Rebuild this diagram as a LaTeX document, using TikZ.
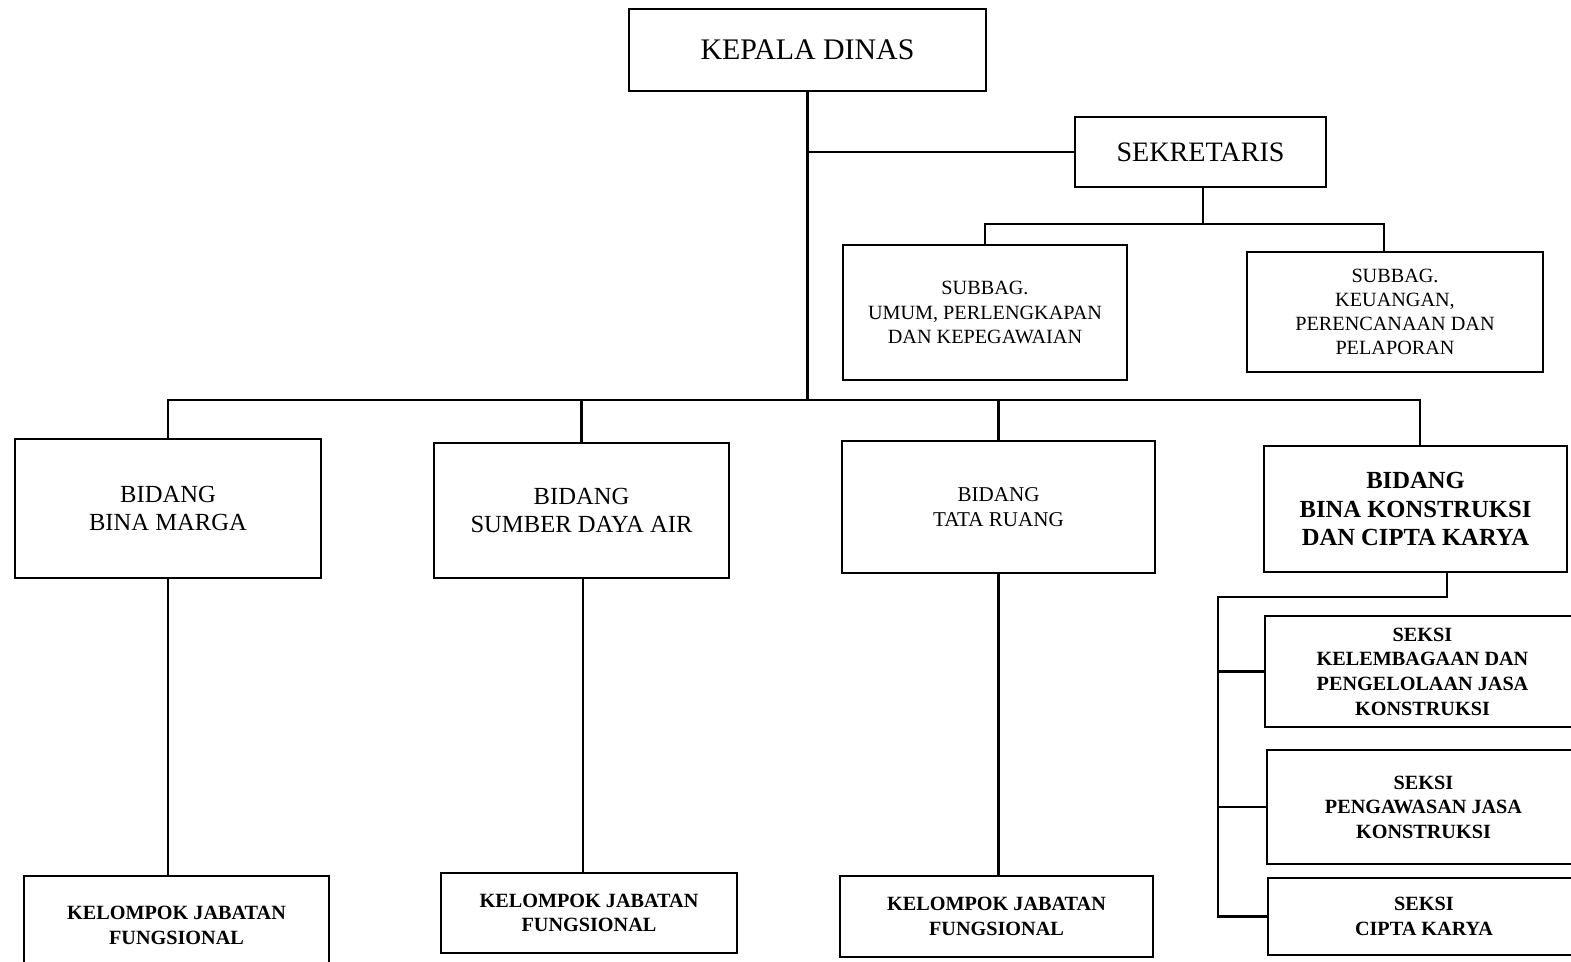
\documentclass[tikz,border=0pt]{standalone}
\usepackage{fontspec}
\setmainfont{Liberation Serif}
\usepackage{tikz}

\tikzset{
  unit/.style={draw, line width=1.1pt, align=center, inner sep=2pt},
  boxsize/.style 2 args={minimum width=#1*0.2mm, minimum height=#2*0.2mm},
  subbag/.style={font=\fontsize{11.5}{13.8}\selectfont},
  bidang/.style={font=\fontsize{14}{16}\selectfont},
  seksi/.style={font=\bfseries\fontsize{11.5}{14}\selectfont},
  link/.style={line width=1.4pt},
}

\begin{document}
\begin{tikzpicture}[x=0.2mm, y=-0.2mm]
  \useasboundingbox (0,0) rectangle (1571,961);
  \clip (0,0) rectangle (1571,961);

  % top of the chart
  \node[unit, boxsize={357}{82}, font=\fontsize{17}{20}\selectfont] (kepala) at (807.5,50) {KEPALA DINAS};
  \node[unit, boxsize={251}{70}, font=\fontsize{16}{19}\selectfont] (sekretaris) at (1200.5,152) {SEKRETARIS};
  \node[unit, subbag, boxsize={284}{135}] (umum) at (985,312.5)
    {SUBBAG.\\UMUM, PERLENGKAPAN\\DAN KEPEGAWAIAN};
  \node[unit, subbag, boxsize={296}{120}] (keuangan) at (1395,312)
    {SUBBAG.\\KEUANGAN,\\PERENCANAAN DAN\\PELAPORAN};

  % bidang row
  \node[unit, bidang, boxsize={306}{139}] (marga) at (168,508.5) {BIDANG\\BINA MARGA};
  \node[unit, bidang, boxsize={295}{135}] (air) at (581.5,510.5) {BIDANG\\SUMBER DAYA AIR};
  \node[unit, font=\fontsize{12}{14.2}\selectfont, boxsize={313}{132}] (ruang) at (998.5,507)
    {BIDANG\\TATA RUANG};
  \node[unit, font=\bfseries\fontsize{14}{16}\selectfont, boxsize={303}{126}] (konstruksi) at (1415.5,509)
    {BIDANG\\BINA KONSTRUKSI\\DAN CIPTA KARYA};

  % kelompok jabatan fungsional
  \node[unit, seksi, boxsize={305}{99}] (jabmarga) at (176.5,925.5) {KELOMPOK JABATAN\\FUNGSIONAL};
  \node[unit, seksi, boxsize={296}{80}] (jabair) at (589,913) {KELOMPOK JABATAN\\FUNGSIONAL};
  \node[unit, seksi, boxsize={313}{81}] (jabruang) at (996.5,916.5) {KELOMPOK JABATAN\\FUNGSIONAL};

  % seksi under bina konstruksi
  \node[unit, seksi, boxsize={315}{111}] (lembaga) at (1422.5,671.5)
    {SEKSI\\KELEMBAGAAN DAN\\PENGELOLAAN JASA\\KONSTRUKSI};
  \node[unit, seksi, boxsize={313}{114}] (awas) at (1423.5,807)
    {SEKSI\\PENGAWASAN JASA\\KONSTRUKSI};
  \node[unit, seksi, boxsize={312}{77}] (cipta) at (1424,916.5) {SEKSI\\CIPTA KARYA};

  \coordinate (bus) at (0,400);
  \coordinate (sbus) at (0,224);
  \coordinate (seksibus) at (1218,597);

  % connectors
  \draw[link] (kepala.south) -- (kepala.south |- bus);
  \draw[link] (kepala.south |- sekretaris.west) -- (sekretaris.west);
  \draw[link] ([xshift=0.5mm]sekretaris.south) -- ([xshift=0.5mm]sekretaris.south |- sbus);
  \draw[link] (umum.north) -- (umum.north |- sbus) -- ([xshift=-2.2mm]keuangan.north |- sbus)
    -- ([xshift=-2.2mm]keuangan.north);
  \draw[link] (marga.north) -- (marga.north |- bus) -- ([xshift=0.9mm]konstruksi.north |- bus)
    -- ([xshift=0.9mm]konstruksi.north);
  \draw[link] (air.north) -- (air.north |- bus);
  \draw[link] (ruang.north) -- (ruang.north |- bus);
  \draw[link] (marga.south) -- (marga.south |- jabmarga.north);
  \draw[link] ([xshift=0.3mm]air.south) -- ([xshift=0.3mm]air.south |- jabair.north);
  \draw[link] (ruang.south) -- (ruang.south |- jabruang.north);
  \draw[link] ([xshift=6.3mm]konstruksi.south) |- (seksibus) -- (seksibus |- cipta.west) -- (cipta.west);
  \draw[link] (seksibus |- lembaga.west) -- (lembaga.west);
  \draw[link] (seksibus |- awas.west) -- (awas.west);
\end{tikzpicture}
\end{document}
